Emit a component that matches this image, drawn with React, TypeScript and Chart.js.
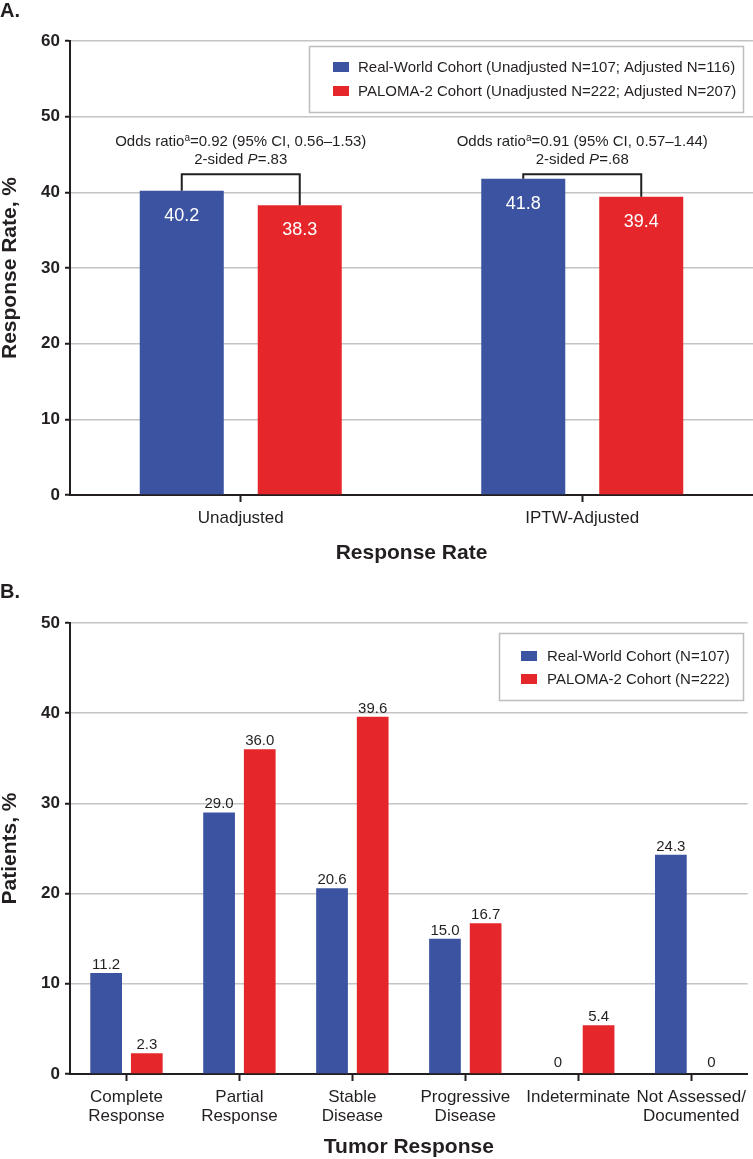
import React, { useEffect, useRef } from "react";
import { Chart, registerables } from "chart.js";
Chart.register(...registerables);

const FONT = '"Liberation Sans", Arial, Helvetica, sans-serif';
const BLUE = "#3B53A1";
const RED = "#E5262A";
const INK = "#231F20";
const GRID = "#C4C4C4";

// ---- Panel A data ----
const aCategories = ["Unadjusted", "IPTW-Adjusted"];
const aSeriesNames = [
  "Real-World Cohort (Unadjusted N=107; Adjusted N=116)",
  "PALOMA-2 Cohort (Unadjusted N=222; Adjusted N=207)",
];
const aRealWorld = [40.2, 41.8];
const aPaloma = [38.3, 39.4];
const aOddsRatio = ["0.92 (95% CI, 0.56–1.53)", "0.91 (95% CI, 0.57–1.44)"];
const aPValues = [".83", ".68"];
const aBracketLevel = 42.4;
const aYMax = 60;

// ---- Panel B data ----
const bCategories = [
  ["Complete", "Response"],
  ["Partial", "Response"],
  ["Stable", "Disease"],
  ["Progressive", "Disease"],
  ["Indeterminate"],
  ["Not Assessed/", "Documented"],
];
const bSeriesNames = ["Real-World Cohort (N=107)", "PALOMA-2 Cohort (N=222)"];
const bRealWorld = [11.2, 29.0, 20.6, 15.0, 0, 24.3];
const bPaloma = [2.3, 36.0, 39.6, 16.7, 5.4, 0];
const bYMax = 50;

function drawLegend(ctx: CanvasRenderingContext2D, box: any, names: string[], colors: string[]) {
  ctx.save();
  ctx.fillStyle = "#fff";
  ctx.fillRect(box.x, box.y, box.w, box.h);
  ctx.strokeStyle = "#BDBDBD";
  ctx.lineWidth = 1.5;
  ctx.strokeRect(box.x + 0.5, box.y + 0.5, box.w, box.h);
  ctx.font = `15px ${FONT}`;
  ctx.textBaseline = "middle";
  ctx.textAlign = "left";
  names.forEach((n, i) => {
    const cy = box.rowY[i];
    ctx.fillStyle = colors[i];
    ctx.fillRect(box.sqX, cy - 5, 16, 10);
    ctx.fillStyle = INK;
    ctx.fillText(n, box.textX, cy + 1);
  });
  ctx.restore();
}

function panelLabel(ctx: CanvasRenderingContext2D, t: string, y: number) {
  ctx.save();
  ctx.font = `bold 20px ${FONT}`;
  ctx.fillStyle = INK;
  ctx.textAlign = "left";
  ctx.textBaseline = "alphabetic";
  ctx.fillText(t, 0, y);
  ctx.restore();
}

const panelAPlugin = {
  id: "panelA",
  afterDraw(chart: any) {
    const ctx: CanvasRenderingContext2D = chart.ctx;
    const xs = chart.scales.x;
    const ys = chart.scales.y;
    const m0 = chart.getDatasetMeta(0);
    const m1 = chart.getDatasetMeta(1);
    ctx.save();
    // in-bar values
    ctx.font = `18px ${FONT}`;
    ctx.fillStyle = "#fff";
    ctx.textAlign = "center";
    ctx.textBaseline = "middle";
    [m0, m1].forEach((m, di) => {
      m.data.forEach((el: any, j: number) => {
        const v = chart.data.datasets[di].data[j];
        ctx.fillText(Number(v).toFixed(1), el.x, el.y + 25);
      });
    });
    // brackets + annotations
    const yb = ys.getPixelForValue(aBracketLevel);
    aCategories.forEach((_, j) => {
      const e0 = m0.data[j];
      const e1 = m1.data[j];
      ctx.strokeStyle = INK;
      ctx.lineWidth = 2;
      ctx.beginPath();
      ctx.moveTo(e0.x, e0.y);
      ctx.lineTo(e0.x, yb);
      ctx.lineTo(e1.x, yb);
      ctx.lineTo(e1.x, e1.y);
      ctx.stroke();

      const cx = xs.getPixelForValue(j);
      ctx.fillStyle = INK;
      ctx.textBaseline = "middle";
      ctx.textAlign = "left";
      // line 1
      const f = `15px ${FONT}`;
      const fs = `10px ${FONT}`;
      const p1 = "Odds ratio";
      const p2 = "a";
      const p3 = "=" + aOddsRatio[j];
      ctx.font = f;
      const w1 = ctx.measureText(p1).width;
      const w3 = ctx.measureText(p3).width;
      ctx.font = fs;
      const w2 = ctx.measureText(p2).width;
      let x = cx - (w1 + w2 + w3) / 2;
      const y1 = yb - 32;
      ctx.font = f;
      ctx.fillText(p1, x, y1);
      x += w1;
      ctx.font = fs;
      ctx.fillText(p2, x, y1 - 4);
      x += w2;
      ctx.font = f;
      ctx.fillText(p3, x, y1);
      // line 2
      const q1 = "2-sided ";
      const q2 = "P";
      const q3 = "=" + aPValues[j];
      const fi = `italic 15px ${FONT}`;
      ctx.font = f;
      const v1 = ctx.measureText(q1).width;
      const v3 = ctx.measureText(q3).width;
      ctx.font = fi;
      const v2 = ctx.measureText(q2).width;
      let x2 = cx - (v1 + v2 + v3) / 2;
      const y2 = yb - 14;
      ctx.font = f;
      ctx.fillText(q1, x2, y2);
      x2 += v1;
      ctx.font = fi;
      ctx.fillText(q2, x2, y2);
      x2 += v2;
      ctx.font = f;
      ctx.fillText(q3, x2, y2);
    });
    ctx.restore();
    drawLegend(
      ctx,
      { x: 309, y: 46, w: 434, h: 66, sqX: 333, textX: 358, rowY: [67, 91] },
      aSeriesNames,
      [BLUE, RED]
    );
    panelLabel(ctx, "A.", 17);
  },
};

const panelBPlugin = {
  id: "panelB",
  afterDraw(chart: any) {
    const ctx: CanvasRenderingContext2D = chart.ctx;
    ctx.save();
    ctx.font = `15px ${FONT}`;
    ctx.fillStyle = INK;
    ctx.textAlign = "center";
    ctx.textBaseline = "alphabetic";
    [0, 1].forEach((di) => {
      const m = chart.getDatasetMeta(di);
      m.data.forEach((el: any, j: number) => {
        const v = Number(chart.data.datasets[di].data[j]);
        const txt = v === 0 ? "0" : v.toFixed(1);
        ctx.fillText(txt, el.x, el.y - (v === 0 ? 7 : 4));
      });
    });
    ctx.restore();
    drawLegend(
      ctx,
      { x: 499, y: 53, w: 244, h: 67, sqX: 521, textX: 547, rowY: [76, 99] },
      bSeriesNames,
      [BLUE, RED]
    );
    panelLabel(ctx, "B.", 18);
  },
};

function makeOptions(opts: {
  top: number;
  yMax: number;
  xTitle: string;
  yTitle: string;
  xTitlePadBottom: number;
  xTitleLH: number;
}): any {
  return {
    responsive: false,
    animation: false,
    devicePixelRatio: 1,
    layout: { padding: { top: opts.top, left: 0, right: 0, bottom: 0 } },
    plugins: { legend: { display: false }, tooltip: { enabled: false } },
    scales: {
      x: {
        grid: {
          display: true,
          drawOnChartArea: false,
          drawTicks: true,
          tickLength: 7,
          tickColor: INK,
          tickWidth: 2,
          offset: false,
        },
        border: { display: true, color: INK, width: 2 },
        ticks: {
          color: INK,
          padding: 7,
          maxRotation: 0,
          autoSkip: false,
          font: { family: FONT, size: 17, lineHeight: 1.12 },
        },
        title: {
          display: true,
          text: opts.xTitle,
          color: INK,
          font: { family: FONT, size: 21, weight: "bold", lineHeight: opts.xTitleLH },
          padding: { top: 0, bottom: opts.xTitlePadBottom },
        },
        afterFit: (s: any) => {
          s.height = 85;
        },
      },
      y: {
        min: 0,
        max: opts.yMax,
        ticks: {
          stepSize: 10,
          color: INK,
          padding: 5,
          font: { family: FONT, size: 17, weight: "bold" },
        },
        grid: {
          color: GRID,
          lineWidth: 1.5,
          tickLength: 5,
          tickColor: INK,
          tickWidth: 2,
        },
        border: { display: true, color: INK, width: 2 },
        title: {
          display: true,
          text: opts.yTitle,
          color: INK,
          font: { family: FONT, size: 21, weight: "bold", lineHeight: 1.0 },
          padding: { top: 0, bottom: 0 },
        },
        afterFit: (s: any) => {
          s.width = 70;
        },
      },
    },
  };
}

function PanelA() {
  const ref = useRef<HTMLCanvasElement | null>(null);
  useEffect(() => {
    if (!ref.current) return;
    const chart = new Chart(ref.current, {
      type: "bar",
      data: {
        labels: aCategories,
        datasets: [
          {
            label: aSeriesNames[0],
            data: aRealWorld,
            backgroundColor: BLUE,
            borderWidth: 0,
            categoryPercentage: 0.691,
            barPercentage: 0.712,
          },
          {
            label: aSeriesNames[1],
            data: aPaloma,
            backgroundColor: RED,
            borderWidth: 0,
            categoryPercentage: 0.691,
            barPercentage: 0.712,
          },
        ],
      },
      options: makeOptions({
        top: 41,
        yMax: aYMax,
        xTitle: "Response Rate",
        yTitle: "Response Rate, %",
        xTitlePadBottom: 14,
        xTitleLH: 1.2,
      }),
      plugins: [panelAPlugin],
    } as any);
    return () => chart.destroy();
  }, []);
  return <canvas ref={ref} width={753} height={580} style={{ display: "block", width: 753, height: 580 }} />;
}

function PanelB() {
  const ref = useRef<HTMLCanvasElement | null>(null);
  useEffect(() => {
    if (!ref.current) return;
    const chart = new Chart(ref.current, {
      type: "bar",
      data: {
        labels: bCategories,
        datasets: [
          {
            label: bSeriesNames[0],
            data: bRealWorld,
            backgroundColor: BLUE,
            borderWidth: 0,
            categoryPercentage: 0.72,
            barPercentage: 0.78,
          },
          {
            label: bSeriesNames[1],
            data: bPaloma,
            backgroundColor: RED,
            borderWidth: 0,
            categoryPercentage: 0.72,
            barPercentage: 0.78,
          },
        ],
      },
      options: makeOptions({
        top: 43,
        yMax: bYMax,
        xTitle: "Tumor Response",
        yTitle: "Patients, %",
        xTitlePadBottom: 0,
        xTitleLH: 1.1,
      }),
      plugins: [panelBPlugin],
    } as any);
    return () => chart.destroy();
  }, []);
  return <canvas ref={ref} width={753} height={579} style={{ display: "block", width: 753, height: 579 }} />;
}

export default function App() {
  return (
    <div
      style={{
        position: "absolute",
        left: 0,
        top: 0,
        width: 753,
        height: 1159,
        background: "#fff",
        overflow: "hidden",
      }}
    >
      <PanelA />
      <PanelB />
    </div>
  );
}
